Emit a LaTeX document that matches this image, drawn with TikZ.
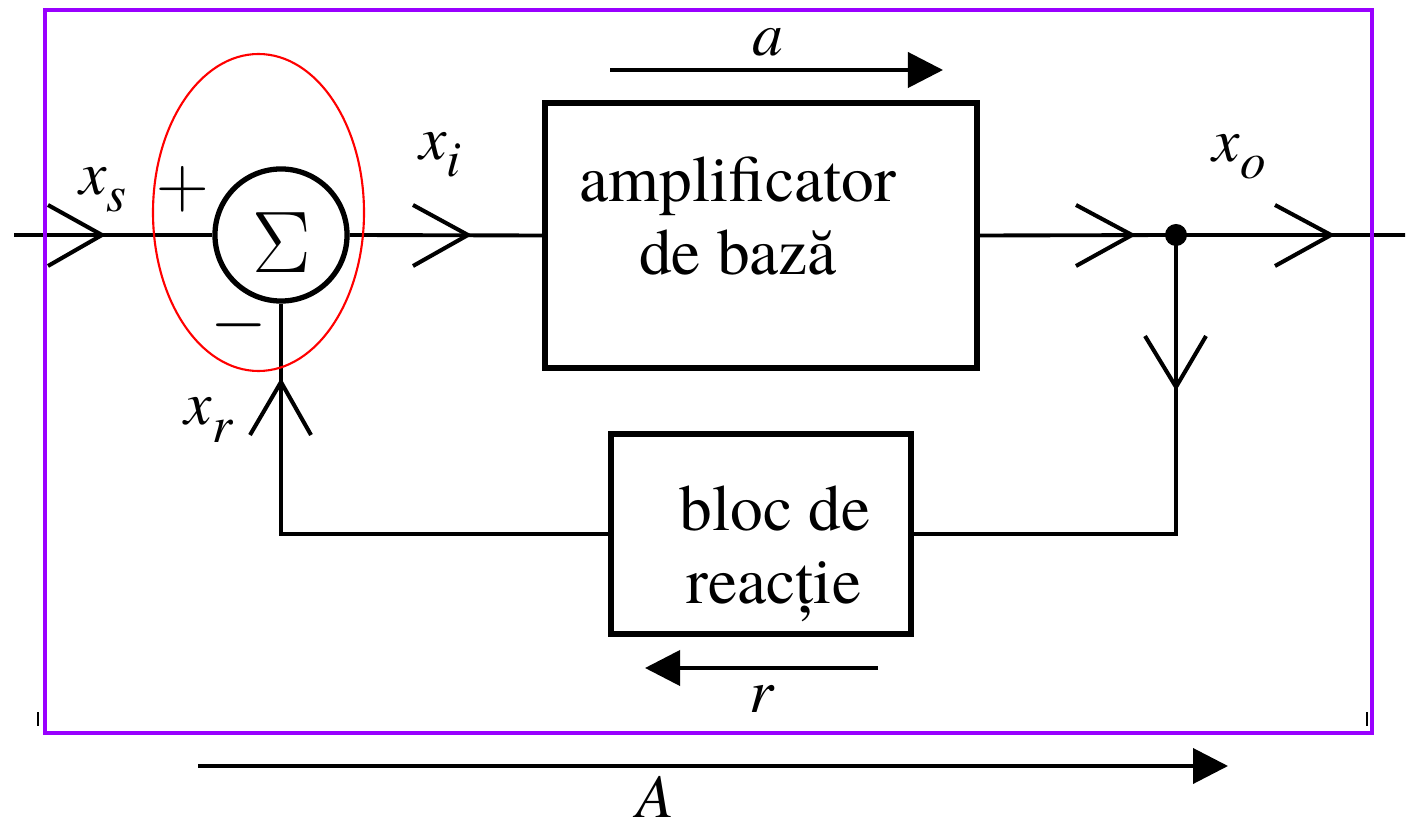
\documentclass[tikz,border=0pt]{standalone}
\usepackage{fontspec}
\setmainfont{TeX Gyre Termes}
\usetikzlibrary{arrows.meta}
\definecolor{framecol}{HTML}{9900FF}
\definecolor{ellcol}{HTML}{FF0000}
\newcommand\sublbl[2]{\textit{#1}\raisebox{-0.28em}{\fontsize{14.5}{14.5}\selectfont\textit{#2}}}
\begin{document}
\begin{tikzpicture}[x=0.01cm,y=-0.01cm,
  sig/.style={line width=1.1pt},
  chev/.style={line width=1.15pt},
  blk/.style={draw, line width=1.6pt, inner sep=0pt, rectangle},
  bigarrow/.style={line width=1.1pt, -{Triangle[length=0.35cm,width=0.35cm]}},
  txt/.style={font=\fontsize{18.6}{21}\selectfont, anchor=base, inner sep=0pt},
  mlab/.style={font=\fontsize{17.5}{20}\selectfont, inner sep=0pt}
]
\useasboundingbox (0,0) rectangle (1410,825);

% blocks
\node[draw, circle, line width=1.5pt, minimum size=1.32cm, inner sep=0pt] (sum) at (281,235) {};
\node[inner sep=0pt, font=\fontsize{24}{24}\selectfont] (sigma) at (282,243) {$\Sigma$};
\node[blk, minimum width=4.32cm, minimum height=2.65cm] (amp) at (761,235.5) {};
\node[blk, minimum width=3.0cm, minimum height=2.0cm] (fb) at (761,534) {};

\node[txt] (amptxt1) at (738,202) {amplificator};
\node[txt] (amptxt2) at (738,275) {de bază};
\node[txt] (fbtxt1) at (775,530) {bloc de};
\node[txt] (fbtxt2) at (774,603) {reacție};

% coordinates
\coordinate (in) at (14,235);
\coordinate (out) at (1405,235);
\node[circle, fill, inner sep=0pt, minimum size=0.22cm] (dot) at (1176,235) {};

% connectors
\draw[sig] (in) -- (sum.west);
\draw[sig] (sum.east) -- (amp.west);
\draw[sig] (amp.east) -- (dot.center) -- (out);
\draw[sig] (dot.center) |- (fb.east);
\draw[sig] (fb.west) -| (sum.south);

% chevrons
\draw[chev] (48,205) -- (102,235) -- (48,266);
\draw[chev] (413,205) -- (468,235) -- (413,266);
\draw[chev] (1076,205) -- (1132,235) -- (1076,266);
\draw[chev] (1275,205) -- (1331,235) -- (1275,266);
\draw[chev] (1145,336) -- (1176,387) -- (1206,336);
\draw[chev] (250,435) -- (281,382) -- (311,435);

% signs and labels
\node[mlab, font=\fontsize{21}{21}\selectfont] (plus) at (183,189) {$+$};
\node[mlab, font=\fontsize{21}{21}\selectfont] (minus) at (239,325) {$-$};
\node[mlab] (xs) at (103,190) {\sublbl{x}{s}};
\node[mlab] (xi) at (440,155) {\sublbl{x}{i}};
\node[mlab] (xo) at (1239,157) {\sublbl{x}{o}};
\node[mlab] (xr) at (209,420) {\sublbl{x}{r}};

% gain arrows
\coordinate (a1) at (610,70);
\coordinate (a2) at (943,70);
\draw[bigarrow] (a1) -- (a2);
\node[mlab] (alab) at (768,42) {\textit{a}};
\coordinate (r1) at (878,668);
\coordinate (r2) at (645,668);
\draw[bigarrow] (r1) -- (r2);
\node[mlab] (rlab) at (762,699) {\textit{r}};
\coordinate (A1) at (198,766);
\coordinate (A2) at (1228,766);
\draw[bigarrow] (A1) -- (A2);
\node[mlab] (Alab) at (655,797) {\textit{A}};

% red ellipse
\draw[ellcol, line width=0.6pt] (258.5,212.5) ellipse [x radius=105.5, y radius=158.5];

% small ticks
\draw[line width=0.6pt] (38,712) -- (38,726);
\draw[line width=0.6pt] (1367,712) -- (1367,726);

% purple frame
\draw[framecol, line width=1.4pt] (45,10) rectangle (1372,733);
\end{tikzpicture}
\end{document}
